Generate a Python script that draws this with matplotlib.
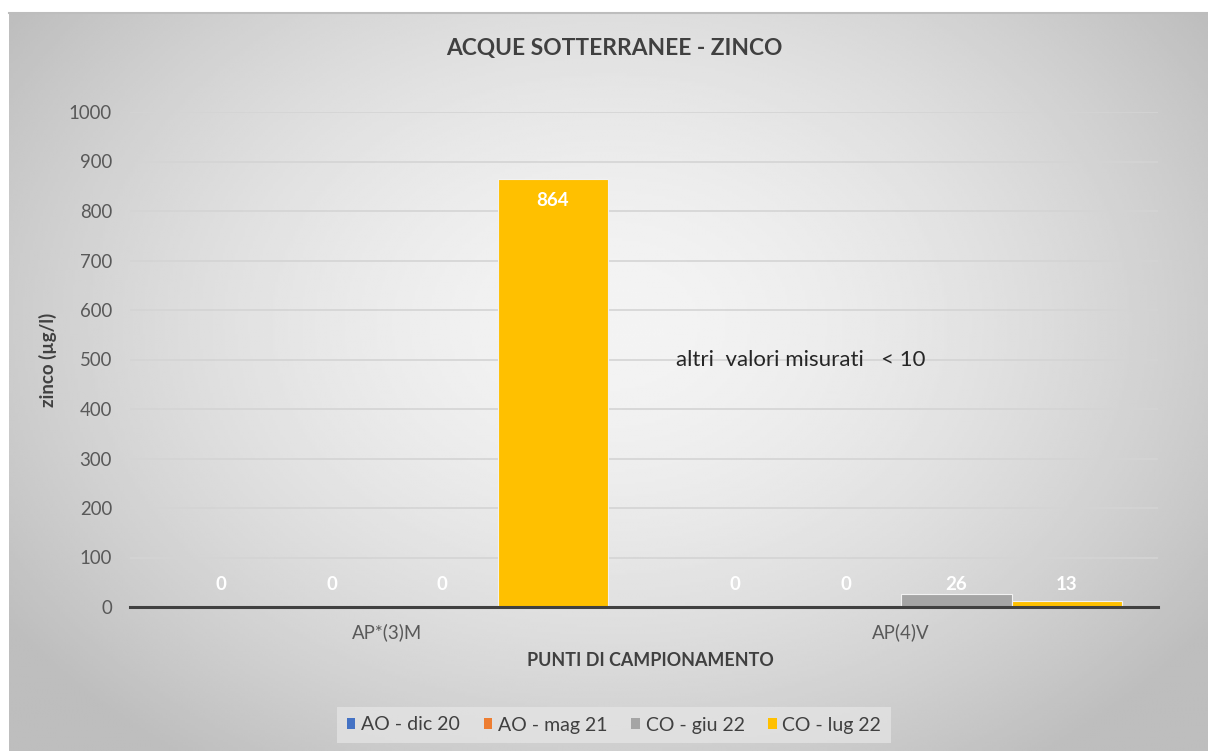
import numpy as np
import matplotlib
matplotlib.use("Agg")
import matplotlib.pyplot as plt
from matplotlib.patches import Patch

plt.rcParams['font.family'] = ['Lato', 'DejaVu Sans']

categories = ["AP*(3)M", "AP(4)V"]
series_names = ["AO - dic 20", "AO - mag 21", "CO - giu 22", "CO - lug 22"]
ao_dic20 = [0, 0]
ao_mag21 = [0, 0]
co_giu22 = [0, 26]
co_lug22 = [864, 13]
colors = ["#4472C4", "#ED7D31", "#A5A5A5", "#FFC000"]
yticks = [0, 100, 200, 300, 400, 500, 600, 700, 800, 900, 1000]

W, H = 1208, 751
fig = plt.figure(figsize=(W / 100, H / 100), dpi=100)
fig.patch.set_facecolor("white")

# radial grey background of the chart area
bg = fig.add_axes([9 / W, 0, (W - 9) / W, (H - 13) / H], zorder=-5)
ny, nx = 300, 480
yy, xx = np.mgrid[0:ny, 0:nx]
r = np.sqrt(((xx - nx * 0.5) / (nx * 0.5)) ** 2 + ((yy - ny * 0.42) / (ny * 0.6)) ** 2)
val = np.clip(244 - 40 * r ** 1.6, 190, 250) / 255.0
bg.imshow(val, cmap="gray", vmin=0, vmax=1, aspect="auto", interpolation="bilinear")
bg.set_axis_off()
fig.add_artist(plt.Line2D([9 / W, 1], [(H - 13) / H] * 2, color="#bdbdbd", lw=1.5))

ax = fig.add_axes([130 / W, 144 / H, (1158 - 130) / W, (639 - 144) / H])
ax.set_facecolor("none")

values = [ao_dic20, ao_mag21, co_giu22, co_lug22]
x = np.arange(len(categories))
bw = 0.215
for i, (vals, c) in enumerate(zip(values, colors)):
    pos = x + (i - 1.5) * bw
    ax.bar(pos, vals, width=bw, color=c, edgecolor="#f2f2f2", linewidth=0.8, zorder=3)
    for px, v in zip(pos, vals):
        ly = v - 43 if v > 100 else 45
        ax.text(px, ly, str(v), ha="center", va="center", color="white",
                fontsize=13.5, fontweight="bold", zorder=4)

ax.set_xlim(-0.5, len(categories) - 0.5)
ax.set_ylim(0, 1000)
ax.set_yticks(yticks)
ax.set_xticks(x)
ax.set_xticklabels(categories)
ax.tick_params(axis="both", length=0, labelsize=13.4, colors="#595959")
ax.tick_params(axis="x", pad=12)
ax.tick_params(axis="y", pad=13)
ax.grid(axis="y", color="#d4d4d4", lw=1.2, zorder=0)
for s in ["top", "right", "left"]:
    ax.spines[s].set_visible(False)
ax.spines["bottom"].set_color("#404040")
ax.spines["bottom"].set_linewidth(2.2)
ax.spines["bottom"].set_zorder(5)

ax.text((676 - 130) / 1028, 500, "altri  valori misurati   < 10",
        transform=ax.get_yaxis_transform(), ha="left", va="center",
        fontsize=16, color="#262626")

fig.text(614 / W, 1 - 48 / H, "ACQUE SOTTERRANEE - ZINCO", ha="center", va="center",
         fontsize=16.4, fontweight="bold", color="#404040")
fig.text(48 / W, 1 - 360 / H, "zinco (µg/l)", rotation=90, ha="center", va="center",
         fontsize=13.5, fontweight="bold", color="#404040")
fig.text(650 / W, 1 - 661 / H, "PUNTI DI CAMPIONAMENTO", ha="center", va="center",
         fontsize=12.9, fontweight="bold", color="#404040")

handles = [Patch(facecolor=c, edgecolor="none") for c in colors]
leg = fig.legend(handles, series_names, loc="center", bbox_to_anchor=(614 / W, 1 - 725 / H),
                 ncol=4, frameon=True, fontsize=14, handlelength=0.45, handleheight=0.45,
                 handletextpad=0.3, columnspacing=1.2, borderpad=0.5, fancybox=False)
leg.get_frame().set_facecolor("#e6e6e6")
leg.get_frame().set_edgecolor("none")
leg.get_frame().set_alpha(0.7)
for t in leg.get_texts():
    t.set_color("#404040")

fig.savefig("out.png", dpi=100)
